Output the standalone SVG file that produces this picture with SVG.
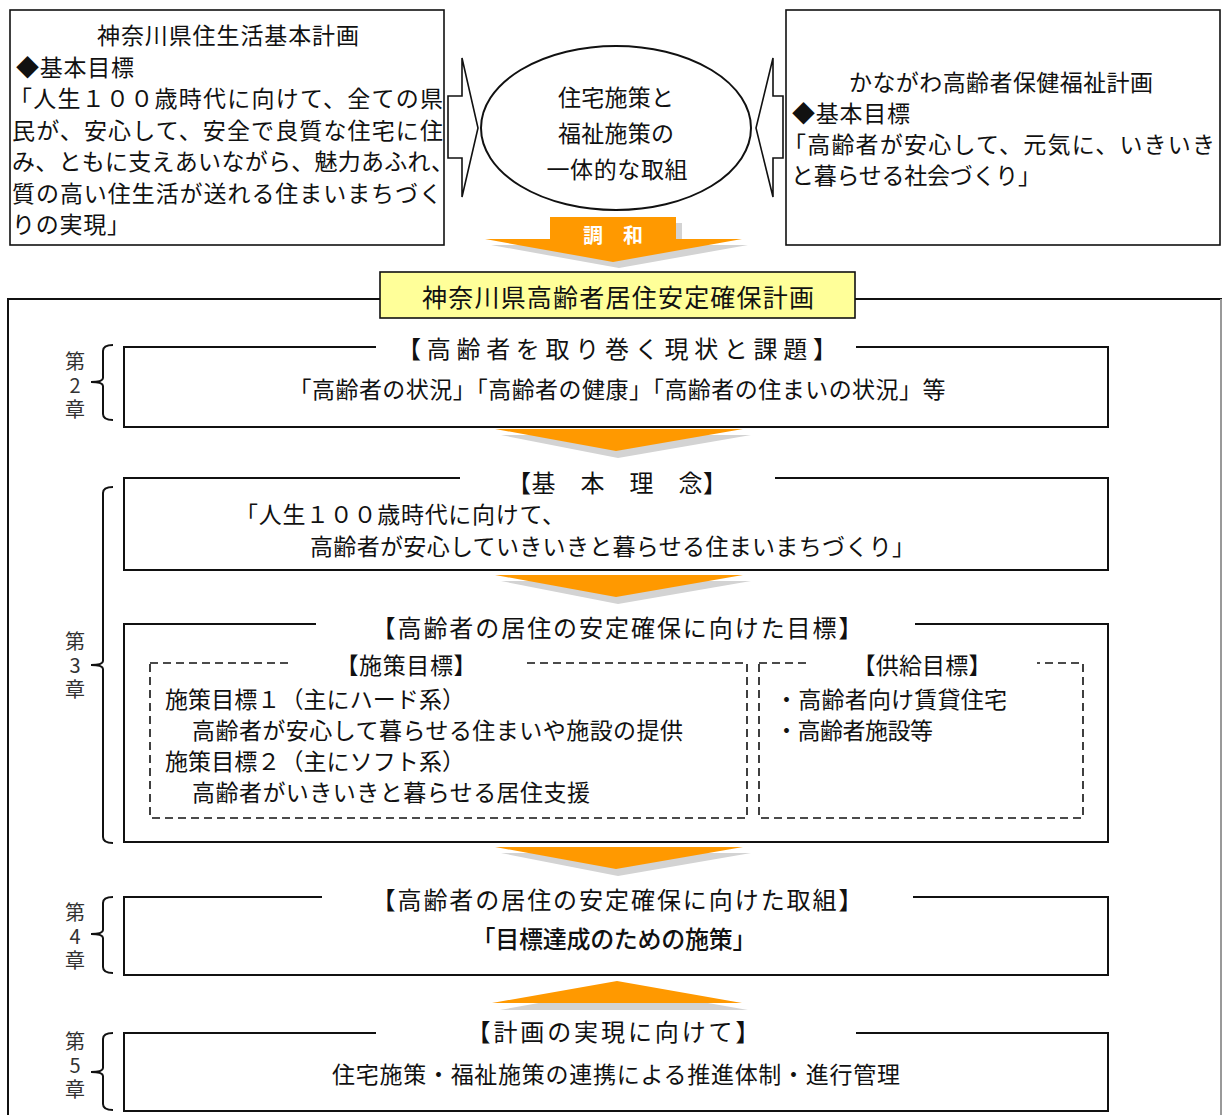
<svg xmlns="http://www.w3.org/2000/svg" width="1223" height="1115" viewBox="0 0 1223 1115">
<defs>
<style>
text{font-family:"Noto Sans CJK JP","Noto Sans CJK SC",sans-serif;font-size:23px;fill:#111;dominant-baseline:central;}
.m{text-anchor:middle;}
.lb{font-size:24px;}
.box{fill:#fff;stroke:#111;stroke-width:2;}
.thin{fill:#fff;stroke:#111;stroke-width:1.6;}
.dash{fill:none;stroke:#111;stroke-width:1.6;stroke-dasharray:8 5;}
.gap{fill:#fff;stroke:none;}
.org{fill:#ff9900;}
.shd{fill:#d3d3d3;}
.br{fill:none;stroke:#111;stroke-width:2;}
.ch{font-size:20px;text-anchor:middle;fill:#333;writing-mode:vertical-rl;text-orientation:upright;letter-spacing:4px;}
</style>
</defs>
<rect width="1223" height="1115" fill="#fff"/>

<g id="outer-frame">
<rect x="8" y="299" width="1213" height="840" fill="none" stroke="#111" stroke-width="2"/>
<line x1="1221" y1="299" x2="1221" y2="1115" stroke="#999" stroke-width="2"/>
</g>

<g id="plan-housing">
<rect class="thin" x="10" y="10" width="434" height="235"/>
<text class="m" x="228" y="34" textLength="262" lengthAdjust="spacing">神奈川県住生活基本計画</text>
<text x="16" y="66" textLength="118" lengthAdjust="spacing">◆基本目標</text>
<text x="9" y="97" textLength="434" lengthAdjust="spacing">「人生１００歳時代に向けて、全ての県</text>
<text x="12" y="129" textLength="431" lengthAdjust="spacing">民が、安心して、安全で良質な住宅に住</text>
<text x="12" y="160" textLength="442" lengthAdjust="spacing">み、ともに支えあいながら、魅力あふれ、</text>
<text x="12" y="192" textLength="430" lengthAdjust="spacing">質の高い住生活が送れる住まいまちづく</text>
<text x="12" y="223" textLength="118" lengthAdjust="spacing">りの実現」</text>
</g>

<g id="plan-welfare">
<rect class="thin" x="786" y="10" width="434" height="235"/>
<text class="m" x="1001" y="81" textLength="304" lengthAdjust="spacing">かながわ高齢者保健福祉計画</text>
<text x="792" y="112" textLength="118" lengthAdjust="spacing">◆基本目標</text>
<text x="783" y="143" textLength="432" lengthAdjust="spacing">「高齢者が安心して、元気に、いきいき</text>
<text x="791" y="174" textLength="250" lengthAdjust="spacing">と暮らせる社会づくり」</text>
</g>

<g id="integration">
<ellipse cx="616" cy="128" rx="135" ry="82" fill="#fff" stroke="#111" stroke-width="2"/>
<text class="m" x="616" y="96" textLength="116" lengthAdjust="spacing">住宅施策と</text>
<text class="m" x="616" y="132" textLength="116" lengthAdjust="spacing">福祉施策の</text>
<text class="m" x="617" y="168" textLength="141" lengthAdjust="spacing">一体的な取組</text>
</g>

<g id="connectors">
<polygon points="448,96 462,96 462,58 478,128 462,197 462,158 448,158" fill="#fff" stroke="#111" stroke-width="1.6"/>
<polygon points="783,96 773,96 773,58 756,128 773,197 773,158 783,158" fill="#fff" stroke="#111" stroke-width="1.6"/>
<g id="harmony-arrow">
<polygon class="shd" points="556,223 682,223 682,245 748,245 619,268 491,245 556,245"/>
<polygon class="org" points="550,217 676,217 676,239 742,239 613,262 485,239 550,239"/>
<text class="m" x="613" y="234" style="font-size:20px;font-weight:bold;fill:#fff;">調　和</text>
</g>
<polygon class="shd" points="501,435 751,435 618,458"/>
<polygon class="org" points="495,429 743,429 616,451"/>
<polygon class="shd" points="501,581 751,581 618,604"/>
<polygon class="org" points="495,575 743,575 616,597"/>
<polygon class="shd" points="501,853 751,853 618,876"/>
<polygon class="org" points="495,847 743,847 616,869"/>
<polygon class="shd" points="500,1010 748,1010 622,988"/>
<polygon class="org" points="492,1003 742,1003 617,981"/>
</g>

<g id="title">
<rect x="380" y="272" width="475" height="46" fill="#ffff99" stroke="#111" stroke-width="1.6"/>
<text class="m" x="618" y="296" style="font-size:25px" textLength="392" lengthAdjust="spacing">神奈川県高齢者居住安定確保計画</text>
</g>

<g id="ch2">
<rect class="box" x="124" y="347" width="984" height="80"/>
<rect class="gap" x="376" y="338" width="480" height="18"/>
<text class="m lb" x="617" y="347" textLength="440" lengthAdjust="spacing">【高齢者を取り巻く現状と課題】</text>
<text class="m" x="617" y="388" textLength="657" lengthAdjust="spacing">「高齢者の状況」「高齢者の健康」「高齢者の住まいの状況」等</text>
<path class="br" d="M113,345 Q103,345 103,351 L103,378 Q103,382 91,382 Q103,382 103,386 L103,414 Q103,420 113,420"/>
<text class="ch" x="75" y="387">第2章</text>
</g>

<g id="ch3-principle">
<rect class="box" x="124" y="478" width="984" height="92"/>
<rect class="gap" x="460" y="469" width="315" height="18"/>
<text class="m lb" x="617" y="481" textLength="220" lengthAdjust="spacing">【基　本　理　念】</text>
<text x="235" y="513" textLength="330" lengthAdjust="spacing">「人生１００歳時代に向けて、</text>
<text x="310" y="545" textLength="605" lengthAdjust="spacing">高齢者が安心していきいきと暮らせる住まいまちづくり」</text>
</g>

<g id="ch3-goals">
<rect class="box" x="124" y="624" width="984" height="218"/>
<rect class="gap" x="316" y="615" width="599" height="18"/>
<text class="m lb" x="617" y="626" textLength="491" lengthAdjust="spacing">【高齢者の居住の安定確保に向けた目標】</text>
<g id="policy-goals">
<rect class="dash" x="150" y="663" width="597" height="155"/>
<rect class="gap" x="290" y="655" width="232" height="16"/>
<text class="m" x="406" y="664" textLength="141" lengthAdjust="spacing">【施策目標】</text>
<text x="165" y="698" textLength="300" lengthAdjust="spacing">施策目標１（主にハード系）</text>
<text x="192" y="729" textLength="491" lengthAdjust="spacing">高齢者が安心して暮らせる住まいや施設の提供</text>
<text x="165" y="760" textLength="300" lengthAdjust="spacing">施策目標２（主にソフト系）</text>
<text x="192" y="791" textLength="398" lengthAdjust="spacing">高齢者がいきいきと暮らせる居住支援</text>
</g>
<g id="supply-goals">
<rect class="dash" x="759" y="663" width="324" height="155"/>
<rect class="gap" x="807" y="655" width="230" height="16"/>
<text class="m" x="922" y="664" textLength="139" lengthAdjust="spacing">【供給目標】</text>
<text x="775" y="698" textLength="232" lengthAdjust="spacing">・高齢者向け賃貸住宅</text>
<text x="775" y="729" textLength="158" lengthAdjust="spacing">・高齢者施設等</text>
</g>
<path class="br" d="M113,487 Q103,487 103,493 L103,661 Q103,665 91,665 Q103,665 103,669 L103,837 Q103,843 113,843"/>
<text class="ch" x="75" y="667">第3章</text>
</g>

<g id="ch4">
<rect class="box" x="124" y="897" width="984" height="78"/>
<rect class="gap" x="322" y="888" width="591" height="18"/>
<text class="m lb" x="617" y="898" textLength="491" lengthAdjust="spacing">【高齢者の居住の安定確保に向けた取組】</text>
<text class="m lb" x="614" y="937" style="font-weight:500" textLength="285" lengthAdjust="spacing">「目標達成のための施策」</text>
<path class="br" d="M113,897 Q103,897 103,903 L103,930 Q103,934 91,934 Q103,934 103,938 L103,967 Q103,973 113,973"/>
<text class="ch" x="75" y="938">第4章</text>
</g>

<g id="ch5">
<rect class="box" x="124" y="1033" width="984" height="78"/>
<rect class="gap" x="376" y="1024" width="480" height="18"/>
<text class="m lb" x="613" y="1030" textLength="293" lengthAdjust="spacing">【計画の実現に向けて】</text>
<text class="m" x="616" y="1073" textLength="568" lengthAdjust="spacing">住宅施策・福祉施策の連携による推進体制・進行管理</text>
<path class="br" d="M113,1033 Q103,1033 103,1039 L103,1068 Q103,1072 91,1072 Q103,1072 103,1076 L103,1104 Q103,1110 113,1110"/>
<text class="ch" x="75" y="1067">第5章</text>
</g>
</svg>
